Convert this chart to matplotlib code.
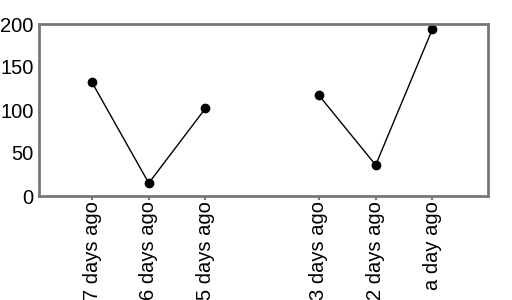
import numpy as np
import matplotlib
matplotlib.use("Agg")
import matplotlib.pyplot as plt

categories = ["7 days ago", "6 days ago", "5 days ago", "4 days ago",
              "3 days ago", "2 days ago", "a day ago"]
values = [132, 15, 102, np.nan, 117, 36, 194]
y_ticks = [0, 50, 100, 150, 200]

plt.rcParams['font.family'] = ['Liberation Sans', 'DejaVu Sans']

fig = plt.figure(figsize=(5.12, 3.0), dpi=100)
ax = fig.add_axes([39/512, 1 - 196/300, (488-39)/512, (196-24)/300])

x = np.arange(len(categories))
ax.plot(x, values, color='black', linewidth=1, marker='o', markersize=6)

shown = [i for i, v in enumerate(values) if not np.isnan(v)]
ax.set_xticks(x[shown])
ax.set_xticklabels([categories[i] for i in shown], rotation=90, fontsize=14.5)
ax.set_xlim(-0.935, 6.98)
ax.set_ylim(0, 200)
ax.set_yticks(y_ticks)
ax.set_yticklabels([str(t) for t in y_ticks], fontsize=14.5)
ax.tick_params(axis='y', length=0, pad=4)
ax.tick_params(axis='x', length=3, width=1.5, color='#777777', pad=0.5, direction='out')
for s in ax.spines.values():
    s.set_color('#777777')
    s.set_linewidth(2)

fig.savefig("out.png", dpi=100)
